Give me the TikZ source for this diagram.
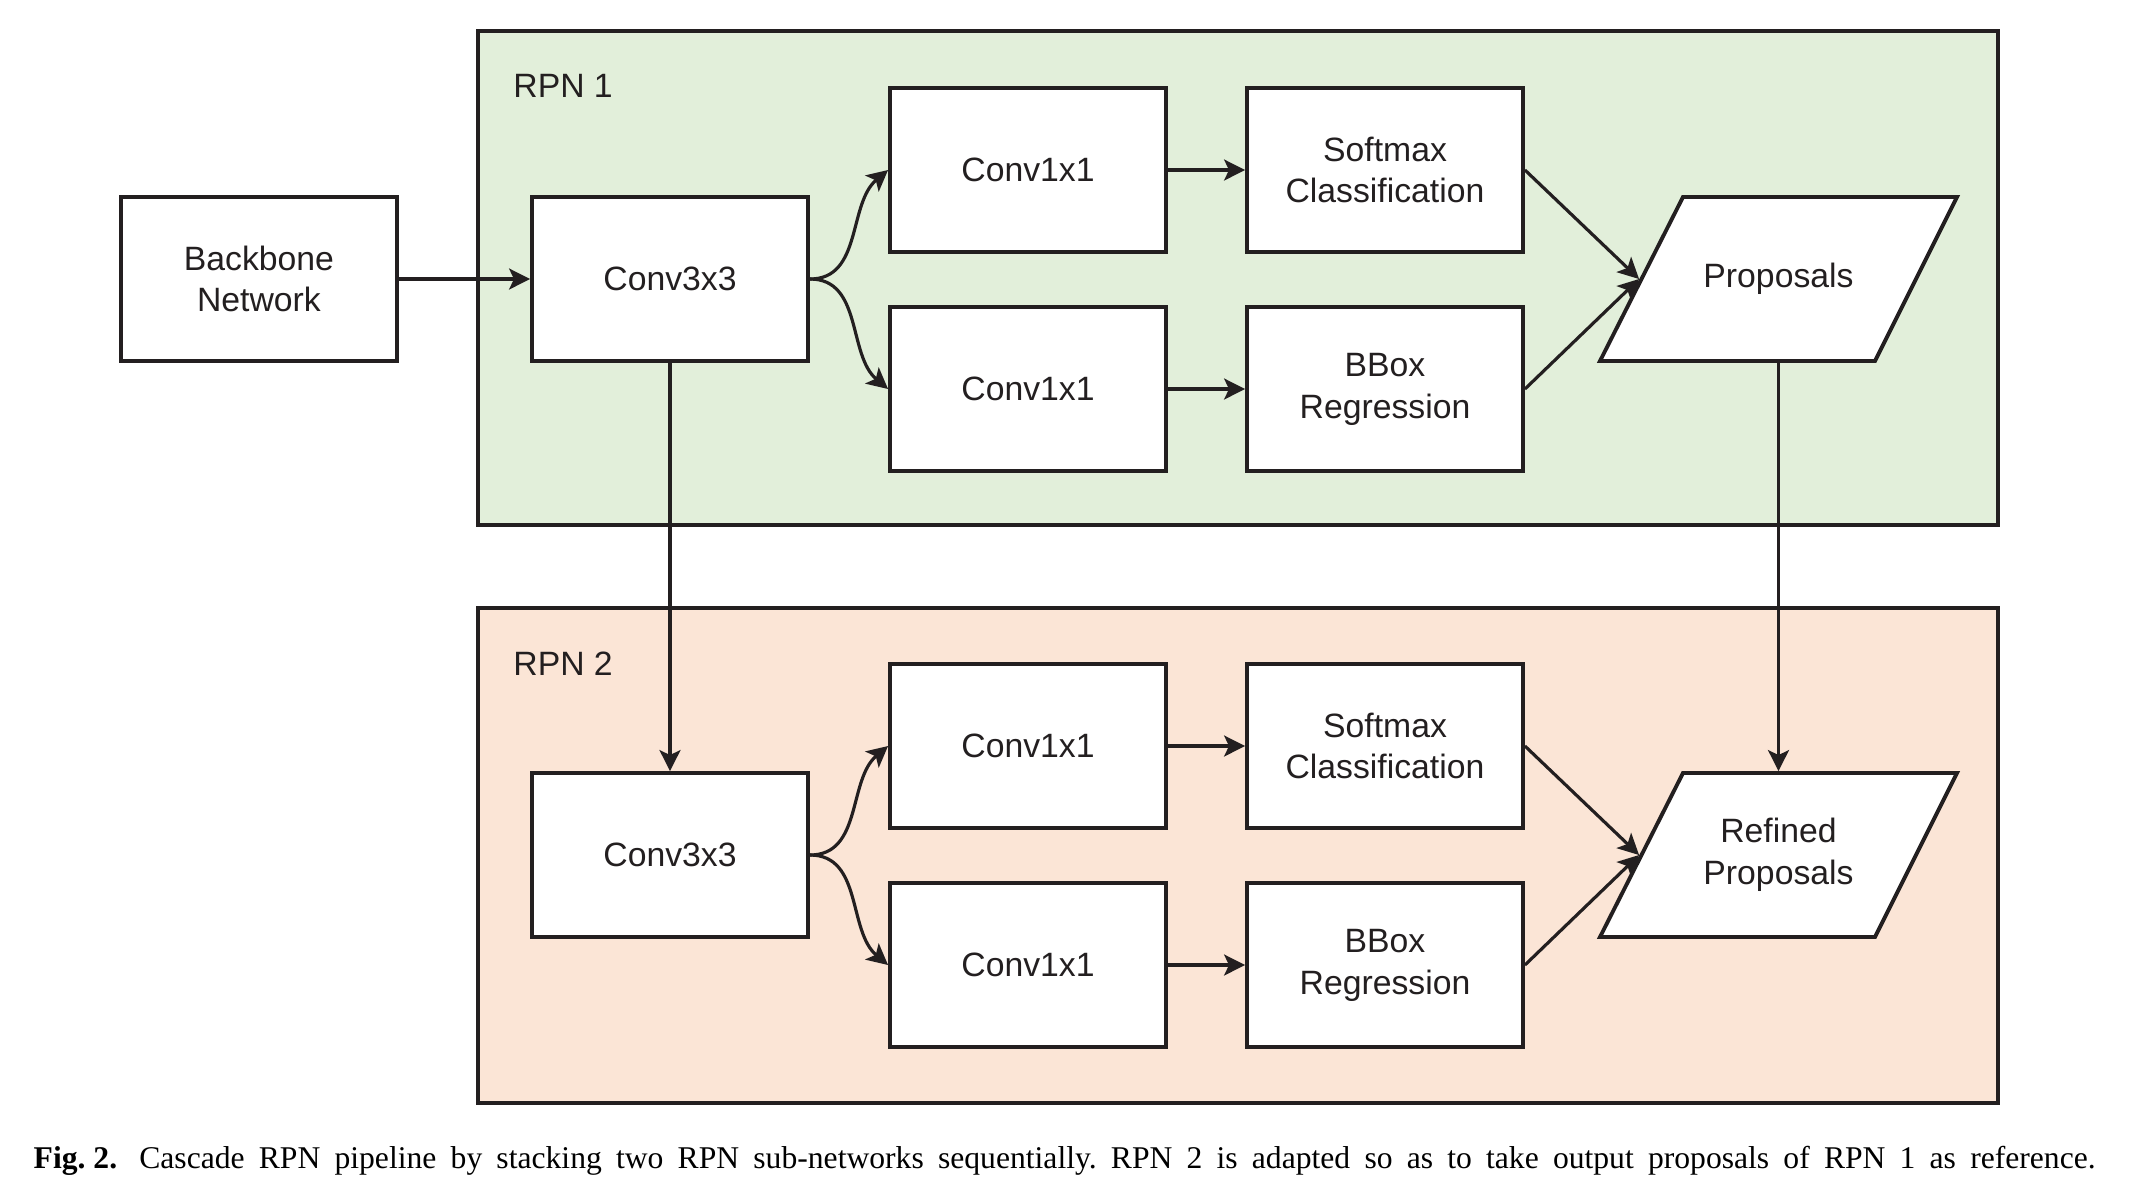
\documentclass[tikz,border=0pt]{standalone}
\usepackage{fontspec}
\setmainfont{Liberation Sans}
\newfontfamily\capfont{Liberation Serif}
\usetikzlibrary{arrows.meta}

\definecolor{rpngreen}{HTML}{E2EFDA}
\definecolor{rpnorange}{HTML}{FBE5D6}
\definecolor{ink}{HTML}{231F20}

\tikzset{
  block/.style={draw=ink,line width=1.1pt,fill=white,minimum width=2.76cm,minimum height=1.64cm,
    align=center,text=ink,font=\fontsize{9.6}{11.9}\selectfont},
  outbox/.style={block,draw=none,fill=none,minimum width=2.75cm},
  slanted/.style={draw=ink,line width=1.1pt,fill=white,line join=miter},
  panel/.style={draw=ink,line width=1.1pt},
  link/.style={draw=ink,line width=0.9pt,-{Stealth[length=2.1mm,width=2.1mm,inset=0.5mm]}}
}

\begin{document}
\begin{tikzpicture}
        \useasboundingbox (0,0) rectangle (21.29,-11.88);

        % Panels
        \draw[panel,fill=rpngreen] (4.78,-0.31) rectangle (19.98,-5.25);
        \draw[panel,fill=rpnorange] (4.78,-6.08) rectangle (19.98,-11.03);
        \node[anchor=west,text=ink,font=\fontsize{9.6}{11.9}\selectfont] (rpn1) at (5.01,-0.86) {RPN 1};
        \node[anchor=west,text=ink,font=\fontsize{9.6}{11.9}\selectfont] (rpn2) at (5.01,-6.64) {RPN 2};

        % Backbone
        \node[block] (backbone) at (2.59,-2.79) {Backbone\\Network};

        % First RPN
        \node[block] (conv3a) at (6.70,-2.79) {Conv3x3};
        \node[block] (conv1a) at (10.28,-1.70) {Conv1x1};
        \node[block] (conv1b) at (10.28,-3.89) {Conv1x1};
        \node[block] (clsa) at (13.85,-1.70) {Softmax\\Classification};
        \node[block] (rega) at (13.85,-3.89) {BBox\\Regression};
        \draw[slanted] (16.00,-3.61) -- (18.75,-3.61) -- (19.57,-1.97) -- (16.83,-1.97) -- cycle;
        \node[outbox] (propa) at (17.785,-2.79) {Proposals};

        % Second RPN
        \node[block] (conv3b) at (6.70,-8.55) {Conv3x3};
        \node[block] (conv1c) at (10.28,-7.46) {Conv1x1};
        \node[block] (conv1d) at (10.28,-9.65) {Conv1x1};
        \node[block] (clsb) at (13.85,-7.46) {Softmax\\Classification};
        \node[block] (regb) at (13.85,-9.65) {BBox\\Regression};
        \draw[slanted] (16.00,-9.37) -- (18.75,-9.37) -- (19.57,-7.73) -- (16.83,-7.73) -- cycle;
        \node[outbox] (propb) at (17.785,-8.55) {Refined\\Proposals};

        % Connections
        \draw[link] (backbone) -- (conv3a);
        \draw[link] (conv3a.east) to[out=0,in=220] (conv1a.west);
        \draw[link] (conv3a.east) to[out=0,in=140] (conv1b.west);
        \draw[link] (conv1a) -- (clsa);
        \draw[link] (conv1b) -- (rega);
        \draw[link] (clsa.east) -- (propa.west);
        \draw[link] (rega.east) -- (propa.west);

        \draw[link] (conv3b.east) to[out=0,in=220] (conv1c.west);
        \draw[link] (conv3b.east) to[out=0,in=140] (conv1d.west);
        \draw[link] (conv1c) -- (clsb);
        \draw[link] (conv1d) -- (regb);
        \draw[link] (clsb.east) -- (propb.west);
        \draw[link] (regb.east) -- (propb.west);

        % Cascade
        \draw[link] (conv3a) -- (conv3b);
        \draw[link] (propa.south) -- (propb.north);

        % Caption
        \node[anchor=west,inner sep=0pt] (caption) at (0.33,-11.61)
          {\capfont\fontsize{9}{11}\selectfont\frenchspacing\makebox[20.62cm][s]{\mbox{\textbf{Fig. 2.}}\hspace{0.7em}Cascade RPN pipeline by stacking two RPN sub-networks sequentially. RPN 2 is adapted so as to take output proposals of RPN 1 as reference.}};
\end{tikzpicture}
\end{document}
